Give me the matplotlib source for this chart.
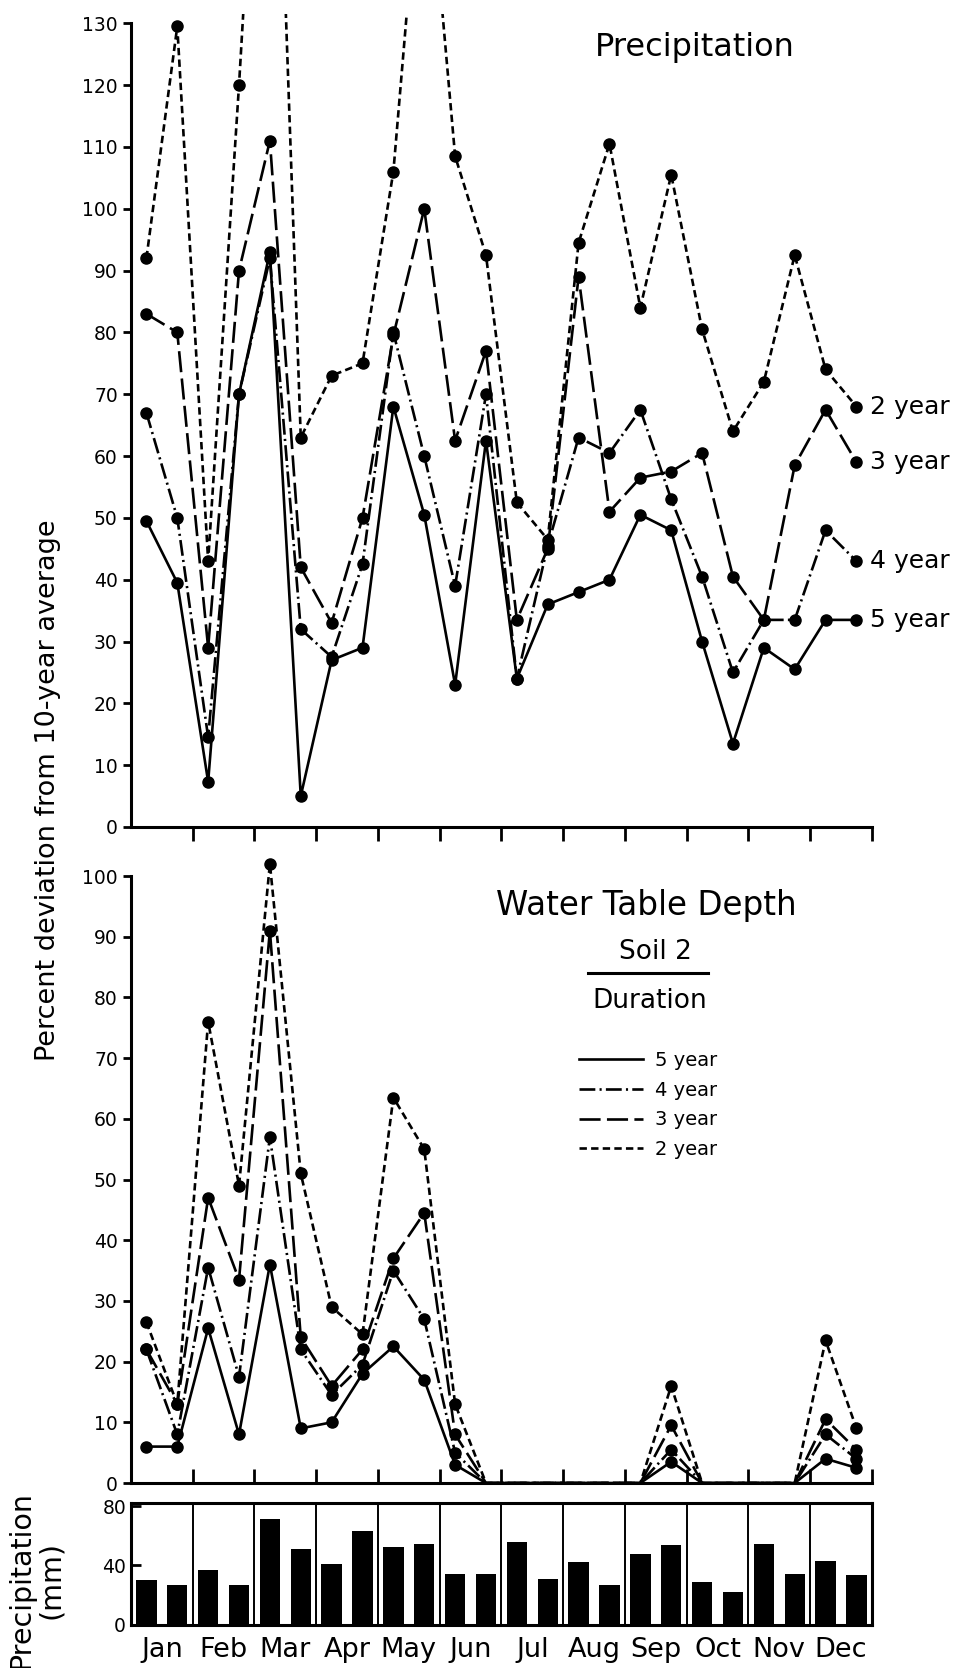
import numpy as np
import matplotlib
matplotlib.use("Agg")
import matplotlib.pyplot as plt
from matplotlib.lines import Line2D
from matplotlib.ticker import FixedLocator

# months and half-month positions
months = ['Jan', 'Feb', 'Mar', 'Apr', 'May', 'Jun', 'Jul', 'Aug', 'Sep', 'Oct', 'Nov', 'Dec']
durations = ['5 year', '4 year', '3 year', '2 year']

# Precipitation: percent deviation from 10-year average (two values per month)
precip_5yr = [49.5, 39.5, 7.3, 70, 93, 5, 27, 29, 68, 50.5, 23, 62.5,
              24, 36, 38, 40, 50.5, 48, 30, 13.5, 29, 25.5, 33.5, 33.5]
precip_4yr = [67, 50, 14.5, 70, 92, 32, 27.5, 42.5, 80, 60, 39, 70,
              24, 45.5, 63, 60.5, 67.5, 53, 40.5, 25, 33.5, 33.5, 48, 43]
precip_3yr = [83, 80, 29, 90, 111, 42, 33, 50, 79.5, 100, 62.5, 77,
              33.5, 45, 89, 51, 56.5, 57.5, 60.5, 40.5, 33.5, 58.5, 67.5, 59]
precip_2yr = [92, 129.5, 43, 120, 205, 63, 73, 75, 106, 165, 108.5, 92.5,
              52.5, 46.5, 94.5, 110.5, 84, 105.5, 80.5, 64, 72, 92.5, 74, 68]

# Water table depth: percent deviation from 10-year average
wt_5yr = [6, 6, 25.5, 8, 36, 9, 10, 18, 22.5, 17, 3, 0,
          0, 0, 0, 0, 0, 3.5, 0, 0, 0, 0, 4, 2.5]
wt_4yr = [22, 8, 35.5, 17.5, 57, 22, 14.5, 19.5, 35, 27, 5, 0,
          0, 0, 0, 0, 0, 5.5, 0, 0, 0, 0, 8, 4]
wt_3yr = [22, 13, 47, 33.5, 91, 24, 16, 22, 37, 44.5, 8, 0,
          0, 0, 0, 0, 0, 9.5, 0, 0, 0, 0, 10.5, 5.5]
wt_2yr = [26.5, 13, 76, 49, 102, 51, 29, 24.5, 63.5, 55, 13, 0,
          0, 0, 0, 0, 0, 16, 0, 0, 0, 0, 23.5, 9]

# monthly precipitation (mm), two bars per month
precip_mm = [30.5, 27, 37, 27, 71, 51, 41, 63, 52.5, 54.5, 34.5, 34,
             56, 31, 42.5, 27, 48, 54, 29, 22, 54.5, 34, 43, 33.5]

x = np.arange(24) * 0.5 + 0.25

LW = 1.9
styles = {
    '5 year': '-',
    '4 year': (0, (6, 1.6, 0.8, 1.6)),
    '3 year': (0, (8, 2.4)),
    '2 year': (0, (2.8, 1.6)),
}
precip = {'5 year': precip_5yr, '4 year': precip_4yr, '3 year': precip_3yr, '2 year': precip_2yr}
wt = {'5 year': wt_5yr, '4 year': wt_4yr, '3 year': wt_3yr, '2 year': wt_2yr}

plt.rcParams['font.family'] = 'DejaVu Sans'

fig = plt.figure(figsize=(9.56, 16.68), dpi=100)
L, W = 0.137, 0.775

# ---- top panel: precipitation
ax1 = fig.add_axes([L, 0.5042, W, 0.4874])
for d in durations:
    ax1.plot(x, precip[d], color='black', lw=LW, ls=styles[d], marker='o', ms=8)
ax1.set_xlim(0, 12)
ax1.set_ylim(0, 131.5)
ax1.spines['top'].set_visible(False)
ax1.spines['right'].set_visible(False)
ax1.spines['left'].set_bounds(0, 130)
for s in ['left', 'bottom']:
    ax1.spines[s].set_linewidth(2.2)
ax1.set_yticks(np.arange(0, 131, 10))
ax1.set_xticks(np.arange(1, 13))
ax1.set_xticklabels([])
ax1.tick_params(axis='x', direction='out', length=10, width=2)
ax1.tick_params(axis='y', direction='out', length=6, width=2, labelsize=13.5)
for d, ys in precip.items():
    ax1.annotate(d, (x[-1], ys[-1]), xytext=(10, 0), textcoords='offset points',
                 va='center', ha='left', fontsize=18)
fig.text(0.727, 0.9718, 'Precipitation', ha='center', va='center', fontsize=23)

# ---- middle panel: water table depth
ax2 = fig.add_axes([L, 0.1109, W, 0.3639])
for d in durations:
    vals = np.array(wt[d])
    ax2.plot(x, vals, color='black', lw=LW, ls=styles[d], marker='o', ms=8,
             markevery=list(np.where(vals > 0)[0]), clip_on=False)
ax2.set_xlim(0, 12)
ax2.set_ylim(0, 100)
ax2.spines['top'].set_visible(False)
ax2.spines['right'].set_visible(False)
for s in ['left', 'bottom']:
    ax2.spines[s].set_linewidth(2.2)
ax2.set_yticks(np.arange(0, 101, 10))
ax2.set_xticks(np.arange(1, 13))
ax2.set_xticklabels([])
ax2.tick_params(axis='x', direction='in', length=10, width=2)
ax2.tick_params(axis='y', direction='out', length=6, width=2, labelsize=13.5)

fig.text(0.6757, 0.4574, 'Water Table Depth', ha='center', va='center', fontsize=23.5)
fig.text(0.6851, 0.4293, 'Soil 2', ha='center', va='center', fontsize=19)
fig.add_artist(Line2D([588 / 956, 708 / 956], [1 - 973 / 1668] * 2, color='black', lw=2.2))
fig.text(0.6799, 0.3999, 'Duration', ha='center', va='center', fontsize=19)

handles = [Line2D([], [], color='black', lw=LW, ls=styles[d]) for d in durations]
ax2.legend(handles, durations, loc='upper left', bbox_to_anchor=(579 / 956, 1 - 1051 / 1668),
           bbox_transform=fig.transFigure, frameon=False, fontsize=14,
           handlelength=3.3, handletextpad=0.6, labelspacing=0.55,
           borderpad=0, borderaxespad=0)

fig.text(48 / 956, 1 - 790 / 1668, 'Percent deviation from 10-year average',
         rotation=90, ha='center', va='center', fontsize=19.5)

# ---- bottom panel: precipitation bars
ax3 = fig.add_axes([L, 0.0258, W, 0.0731])
ax3.bar(x, precip_mm, width=0.33, color='black')
ax3.set_xlim(0, 12)
ax3.set_ylim(0, 82)
for s in ax3.spines.values():
    s.set_linewidth(2.2)
ax3.set_yticks([0, 40, 80])
ax3.tick_params(axis='y', direction='in', length=7, width=2, labelsize=13.5)
ax3.set_xticks(np.arange(12) + 0.5)
ax3.set_xticklabels(months, fontsize=19.5)
ax3.tick_params(axis='x', length=0, pad=9)
ax3.xaxis.set_minor_locator(FixedLocator(np.arange(1, 12)))
ax3.tick_params(axis='x', which='minor', length=0)
ax3.grid(which='minor', axis='x', color='black', lw=1.4)
ax3.set_axisbelow(True)

fig.text(36 / 956, 1 - 1580 / 1668, 'Precipitation\n(mm)', rotation=90,
         ha='center', va='center', multialignment='center', fontsize=20.5, linespacing=1.1)

fig.savefig('out.png', dpi=100, facecolor='white')
